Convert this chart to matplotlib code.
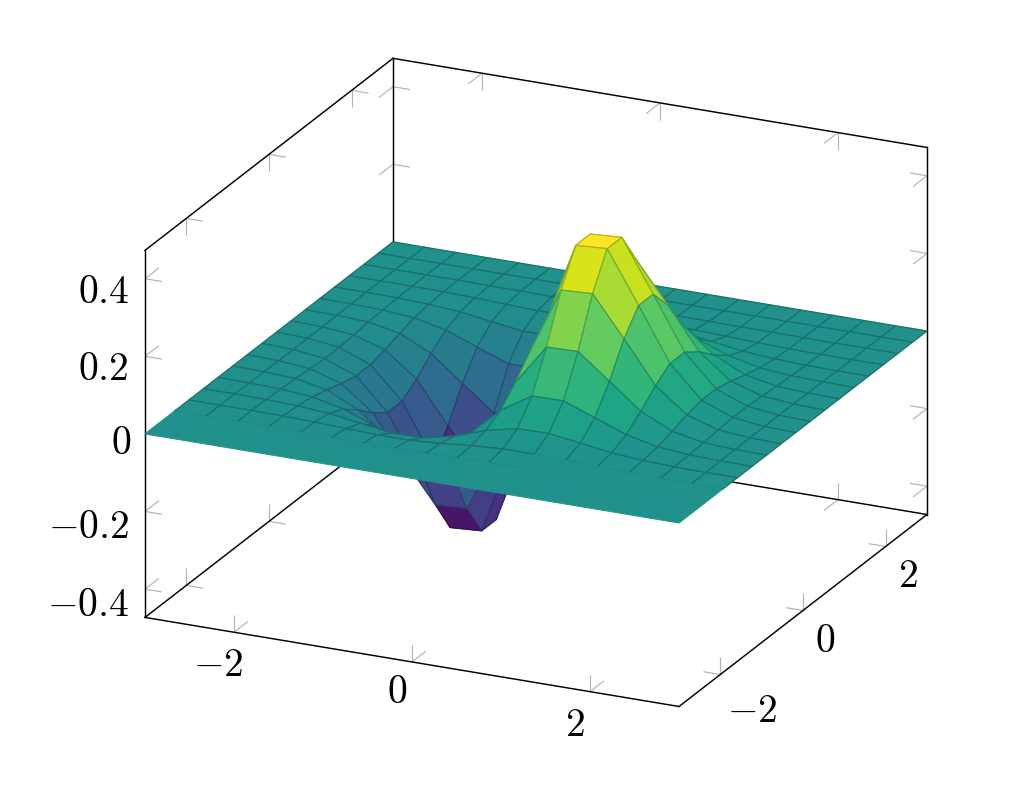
import numpy as np
import matplotlib
matplotlib.use("Agg")
import matplotlib.pyplot as plt
from matplotlib.collections import PolyCollection, LineCollection
from matplotlib.colors import Normalize

plt.rcParams['mathtext.fontset'] = 'cm'

# ---- data ------------------------------------------------------------------
x_edges = [-3.000, -2.647, -2.294, -1.941, -1.588, -1.235, -0.882, -0.529, -0.176,
           0.176, 0.529, 0.882, 1.235, 1.588, 1.941, 2.294, 2.647, 3.000]
y_edges = list(x_edges)

# one row per y value (y = -3 first), one column per x value
z_rows = [
 [0,0,0,0,0,0,0,0,0, 0,0,0,0,0,0,0,0,0],
 [0,0,0,0,0,0,0,0,0, 0,0,0,0,0,0,0,0,0],
 [0,0,0,0,-.001,-.001,-.002,-.002,-.001, .001,.002,.002,.001,.001,0,0,0,0],
 [0,0,0,-.001,-.003,-.006,-.009,-.009,-.004, .004,.009,.009,.006,.003,.001,0,0,0],
 [0,0,-.001,-.004,-.010,-.022,-.033,-.032,-.014, .014,.032,.033,.022,.010,.004,.001,0,0],
 [0,-.001,-.003,-.010,-.028,-.058,-.088,-.087,-.037, .037,.087,.088,.058,.028,.010,.003,.001,0],
 [0,-.001,-.005,-.021,-.059,-.123,-.186,-.184,-.079, .079,.184,.186,.123,.059,.021,.005,.001,0],
 [0,-.002,-.009,-.034,-.096,-.203,-.306,-.302,-.129, .129,.302,.306,.203,.096,.034,.009,.002,0],
 [0,-.002,-.012,-.043,-.124,-.260,-.393,-.388,-.166, .166,.388,.393,.260,.124,.043,.012,.002,0],
 [0,-.002,-.012,-.043,-.124,-.260,-.393,-.388,-.166, .166,.388,.393,.260,.124,.043,.012,.002,0],
 [0,-.002,-.009,-.034,-.096,-.203,-.306,-.302,-.129, .129,.302,.306,.203,.096,.034,.009,.002,0],
 [0,-.001,-.005,-.021,-.059,-.123,-.186,-.184,-.079, .079,.184,.186,.123,.059,.021,.005,.001,0],
 [0,-.001,-.003,-.010,-.028,-.058,-.088,-.087,-.037, .037,.087,.088,.058,.028,.010,.003,.001,0],
 [0,0,-.001,-.004,-.010,-.022,-.033,-.032,-.014, .014,.032,.033,.022,.010,.004,.001,0,0],
 [0,0,0,-.001,-.003,-.006,-.009,-.009,-.004, .004,.009,.009,.006,.003,.001,0,0,0],
 [0,0,0,0,-.001,-.001,-.002,-.002,-.001, .001,.002,.002,.001,.001,0,0,0,0],
 [0,0,0,0,0,0,0,0,0, 0,0,0,0,0,0,0,0,0],
 [0,0,0,0,0,0,0,0,0, 0,0,0,0,0,0,0,0,0],
]

x_ticks = [-2, 0, 2]
y_ticks = [-2, 0, 2]
z_ticks = [-0.4, -0.2, 0, 0.2, 0.4]
x_labels = ['$-2$', '$0$', '$2$']
y_labels = ['$-2$', '$0$', '$2$']
z_labels = ['$-0.4$', '$-0.2$', '$0$', '$0.2$', '$0.4$']

x_lim = (-3, 3)
y_lim = (-3, 3)
z_lim = (-0.473, 0.473)

# ---- view: pixel position of the box and pixel size of one data unit --------
ORIGIN = np.array([145.0, 617.4])          # x min, y min, z min
UX = np.array([89.0, 14.85])
UY = np.array([41.33, -32.0])
UZ = np.array([0.0, -388.0])


def project(x, y, z):
    return ORIGIN + (x - x_lim[0]) * UX + (y - y_lim[0]) * UY + (z - z_lim[0]) * UZ


fig = plt.figure(figsize=(10.31, 8.07), dpi=100)
ax = fig.add_axes([0, 0, 1, 1])
ax.set_xlim(0, 1031)
ax.set_ylim(807, 0)
ax.axis('off')

x0, x1 = x_lim
y0, y1 = y_lim
z0, z1 = z_lim

# ---- box --------------------------------------------------------------------
box_edges = [
    ((x0, y0, z0), (x1, y0, z0)), ((x1, y0, z0), (x1, y1, z0)),
    ((x0, y0, z0), (x0, y1, z0)), ((x0, y1, z0), (x1, y1, z0)),
    ((x0, y0, z0), (x0, y0, z1)), ((x0, y1, z0), (x0, y1, z1)),
    ((x1, y1, z0), (x1, y1, z1)), ((x0, y0, z1), (x0, y1, z1)),
    ((x0, y1, z1), (x1, y1, z1)),
]
ax.add_collection(LineCollection([[project(*a), project(*b)] for a, b in box_edges],
                                 colors='black', linewidths=1.05, zorder=2,
                                 capstyle='projecting'))

# ---- ticks: every tick is a pair of short grey strokes along two box axes ----
LX, LY, LZ = 0.19, 0.335, 0.044
segs = []
def tick(p, d1, d2):
    base = np.array(p, float)
    segs.append([project(*base), project(*(base + d1))])
    segs.append([project(*base), project(*(base + d2))])

for v in x_ticks:
    tick((v, y0, z0), (0, 0, LZ), (0, LY, 0))
    tick((v, y1, z0), (0, 0, LZ), (0, -LY, 0))
    tick((v, y1, z1), (0, 0, -LZ), (0, -LY, 0))
for v in y_ticks:
    tick((x1, v, z0), (0, 0, LZ), (-LX, 0, 0))
    tick((x0, v, z0), (0, 0, LZ), (LX, 0, 0))
    tick((x0, v, z1), (0, 0, -LZ), (LX, 0, 0))
for v in z_ticks:
    tick((x0, y0, v), (0, LY, 0), (LX, 0, 0))
    tick((x0, y1, v), (0, -LY, 0), (LX, 0, 0))
    tick((x1, y1, v), (0, -LY, 0), (-LX, 0, 0))
ax.add_collection(LineCollection(segs, colors='#b4b4b4', linewidths=0.85, zorder=1.5))

# ---- surface: painted from the back row to the front row ---------------------
Z = np.array(z_rows, float)
X = np.array(x_edges)
Y = np.array(y_edges)
norm = Normalize(Z.min(), Z.max())
cmap = plt.get_cmap('viridis')

polys, faces, edges, widths = [], [], [], []
for j in range(len(Y) - 2, -1, -1):
    for i in range(len(X) - 1):
        corners = [(i, j), (i + 1, j), (i + 1, j + 1), (i, j + 1)]
        polys.append([project(X[a], Y[b], Z[b, a]) for a, b in corners])
        c = np.array(cmap(norm(np.mean([Z[b, a] for a, b in corners]))))
        faces.append(c)
        # the front band carries no mesh lines; it steps back one row at x = 0.88
        if j < 2 or (j == 2 and i >= 11):
            edges.append(c)
            widths.append(0.75)
        else:
            e = c.copy()
            e[:3] *= 0.78
            edges.append(e)
            widths.append(0.9)
ax.add_collection(PolyCollection(polys, facecolors=faces, edgecolors=edges,
                                 linewidths=widths, zorder=3, joinstyle='round'))

# ---- tick labels -------------------------------------------------------------
FS = 28.5
for v, s, dx, dy in zip(z_ticks, z_labels, [-16, -16, -14, -16, -16], [27, 27, 20.5, 23.5, 24]):
    px, py = project(x0, y0, v)
    ax.text(px + dx, py + dy, s, fontsize=FS, ha='right', va='baseline', color='black', zorder=5)
for v, s, dx, dy in zip(x_ticks, x_labels, [-16, -15, -15], [44, 41, 44]):
    px, py = project(v, y0, z0)
    ax.text(px + dx, py + dy, s, fontsize=FS, ha='center', va='baseline', color='black', zorder=5)
for v, s, dx, dy in zip(y_ticks, y_labels, [31.7, 22, 22], [47, 41.5, 40.5]):
    px, py = project(x1, v, z0)
    ax.text(px + dx, py + dy, s, fontsize=FS, ha='center', va='baseline', color='black', zorder=5)

fig.savefig('out.png', dpi=100, facecolor='white')
